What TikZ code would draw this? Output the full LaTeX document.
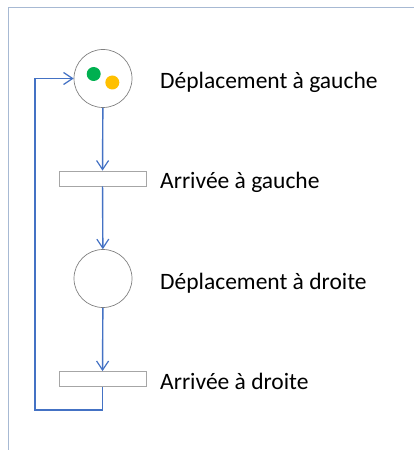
\documentclass[tikz,border=0pt]{standalone}
\usepackage{fontspec}
\setmainfont{Carlito}
\usetikzlibrary{arrows.meta}
\definecolor{arcblue}{HTML}{4472C4}
\definecolor{framec}{HTML}{A7B9D3}
\definecolor{placec}{HTML}{808080}
\definecolor{transc}{HTML}{A6A6A6}
\definecolor{tokgreen}{HTML}{00B050}
\definecolor{tokorange}{HTML}{FFC000}
\tikzset{
  place/.style={circle,draw=placec,line width=0.7bp,minimum size=58bp,inner sep=0pt},
  transbox/.style={rectangle,draw=transc,fill=white,line width=0.8bp,minimum width=87bp,minimum height=15bp,inner sep=0pt},
  token/.style={circle,inner sep=0pt,minimum size=14bp},
  lbl/.style={anchor=base west,inner sep=0pt,font=\fontsize{23.5bp}{28bp}\selectfont},
  arc/.style={draw=arcblue,line width=1.4bp,-{Straight Barb[length=9bp,width=12bp,line width=1.2bp]}},
  frameline/.style={draw=framec,line width=1bp}
}
\begin{document}
\begin{tikzpicture}[x=1bp,y=-1bp]
\useasboundingbox (0,0) rectangle (414,450);
\draw[frameline] (8,450) -- (8,8) -- (414,8);
\node[place] (p1) at (103,78.5) {};
\node[token,fill=tokgreen] (g1) at (93.7,74) {};
\node[token,fill=tokorange] (o1) at (112.3,82.5) {};
\node[transbox] (t1) at (102.5,178.5) {};
\node[place] (p2) at (103,278.5) {};
\node[transbox] (t2) at (102.5,379) {};
\coordinate (c1) at (102.5,410);
\coordinate (c2) at (35,410);
\coordinate (c3) at (35,78.5);
\node[lbl] (l1) at (160,89) {Déplacement à gauche};
\node[lbl] (l2) at (160,189) {Arrivée à gauche};
\node[lbl] (l3) at (160,289) {Déplacement à droite};
\node[lbl] (l4) at (160,389.5) {Arrivée à droite};
\draw[arc] (p1) -- (t1);
\draw[arc] (t1) -- (p2);
\draw[arc] (p2) -- (t2);
\draw[arc] (t2.south) -- (c1) -- (c2) -- (c3) -- (p1.west);
\end{tikzpicture}
\end{document}
